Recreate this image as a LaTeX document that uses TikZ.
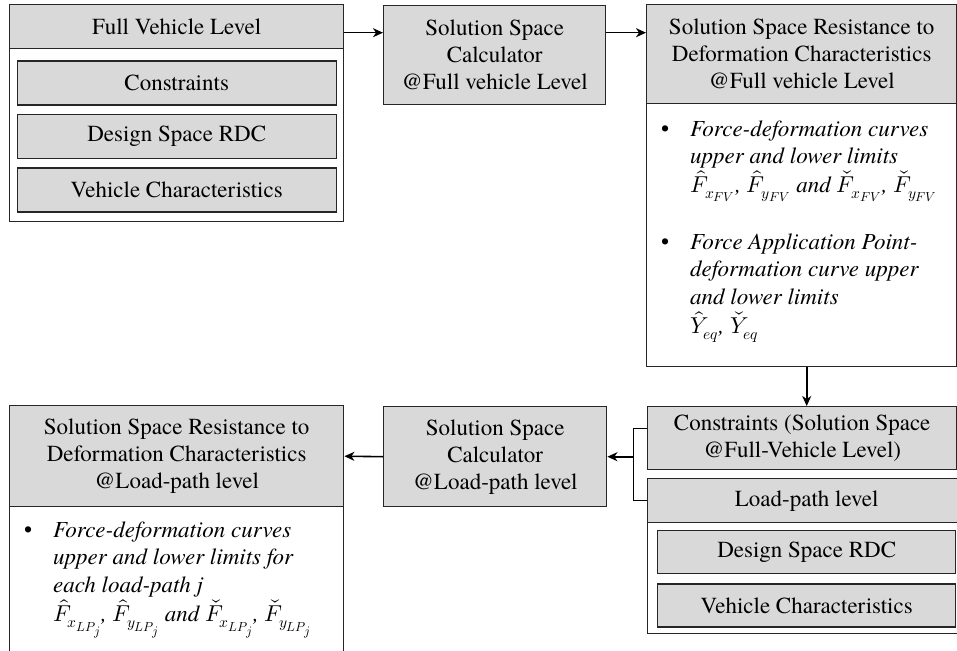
\documentclass[tikz,border=0pt]{standalone}
\usepackage{unicode-math}
\setmainfont{texgyretermes}[Extension=.otf, UprightFont=*-regular, ItalicFont=*-italic, BoldFont=*-bold, BoldItalicFont=*-bolditalic]
\setmathfont{Latin Modern Math}
\DeclareMathSizes{23}{23}{15.5}{13}
\usetikzlibrary{positioning,arrows.meta}

\begin{document}
\begin{tikzpicture}[x=1pt, y=-1pt, font=\fontsize{23}{27}\selectfont, node distance=8pt,
  frame/.style={draw=black!85, line width=1.4pt, inner sep=0pt, anchor=north west},
  box/.style={draw=black!85, line width=1.4pt, fill=black!15, inner sep=0pt, align=center},
  item/.style={box, minimum height=44pt},
  txt/.style={font=\fontsize{23}{27.5}\selectfont\itshape, align=left, inner sep=0pt, anchor=north west},
  dot/.style={inner sep=0pt, anchor=north west},
  a/.style={line width=1.6pt, -{Stealth[length=10pt, width=9pt, inset=3pt]}},
  l/.style={line width=1.3pt}]
\useasboundingbox (0,0) rectangle (957,650);

% full vehicle level
\node[frame, minimum width=334pt, minimum height=217pt] (fv) at (9,4) {};
\node[item, anchor=north, minimum width=334pt] (fv_head) at (fv.north) {Full Vehicle Level};
\node[item, minimum width=319pt, below=11pt of fv_head] (fv_cons) {Constraints};
\node[item, minimum width=319pt, below=of fv_cons] (fv_rdc) {Design Space RDC};
\node[item, minimum width=319pt, below=of fv_rdc] (fv_char) {Vehicle Characteristics};

% calculator, full vehicle
\node[box, anchor=north west, minimum width=222pt, minimum height=99pt] (calc_fv) at (383,5) {Solution Space\\ Calculator\\ @Full vehicle Level};

% solution space, full vehicle
\node[frame, minimum width=310pt, minimum height=362pt] (rs_fv) at (646,4) {};
\node[box, anchor=north, minimum width=310pt, minimum height=99pt] (rs_fv_head) at (rs_fv.north) {Solution Space Resistance to\\ Deformation Characteristics\\ @Full vehicle Level};
\node[dot] (rs_fv_b1) at (661,117) {\strut\textbullet};
\node[txt] (rs_fv_t1) at (690,117) {\strut Force-deformation curves\\ upper and lower limits\\[1pt] $\hat{F}_{x_{FV}}$, $\hat{F}_{y_{FV}}$ and $\check{F}_{x_{FV}}$, $\check{F}_{y_{FV}}$};
\node[dot] (rs_fv_b2) at (661,230) {\strut\textbullet};
\node[txt] (rs_fv_t2) at (690,230) {\strut Force Application Point-\\ deformation curve upper\\ and lower limits\\[2pt] $\hat{Y}_{eq}$, $\check{Y}_{eq}$};

% inputs at load-path level
\node[box, anchor=north west, minimum width=309pt, minimum height=63pt] (cons_sv) at (647,406) {Constraints (Solution Space\\ @Full-Vehicle Level)};
\node[frame, minimum width=318pt, minimum height=155pt] (lp) at (647,478) {};
\node[item, anchor=north, minimum width=318pt] (lp_head) at (lp.north) {Load-path level};
\node[item, anchor=north west, minimum width=298pt, minimum height=43pt] (lp_rdc) at (657,530) {Design Space RDC};
\node[item, minimum width=298pt, minimum height=43pt, below=9pt of lp_rdc] (lp_char) {Vehicle Characteristics};

% calculator, load-path
\node[box, anchor=north west, minimum width=223pt, minimum height=100pt] (calc_lp) at (383,406) {Solution Space\\ Calculator\\ @Load-path level};

% solution space, load-path
\node[frame, minimum width=334pt, minimum height=260pt] (rs_lp) at (9,405) {};
\node[box, anchor=north, minimum width=334pt, minimum height=101pt] (rs_lp_head) at (rs_lp.north) {Solution Space Resistance to\\ Deformation Characteristics\\ @Load-path level};
\node[dot] (rs_lp_b1) at (24,518) {\strut\textbullet};
\node[txt] (rs_lp_t1) at (53,518) {\strut Force-deformation curves\\ upper and lower limits for\\ each load-path j\\[2pt] $\hat{F}_{x_{LP_j}}$, $\hat{F}_{y_{LP_j}}$ and $\check{F}_{x_{LP_j}}$, $\check{F}_{y_{LP_j}}$};

% flow
\draw[a] ([yshift=-6pt]fv_head.east) -- ([yshift=-6pt]fv_head.east -| calc_fv.west);
\draw[a] ([yshift=-6pt]fv_head.east -| calc_fv.east) -- ([yshift=-6pt]fv_head.east -| rs_fv.west);
\draw[a] ([xshift=5pt]rs_fv.south) -- ([xshift=5pt]rs_fv.south |- cons_sv.north);
\coordinate (join) at ([xshift=26pt]calc_lp.east);
\draw[l] ([yshift=9.5pt]cons_sv.west) -| (join) |- (lp_head.west);
\draw[a] (join) -- (calc_lp.east);
\draw[a] (calc_lp.west) -- (rs_lp_head.east);
\end{tikzpicture}
\end{document}
